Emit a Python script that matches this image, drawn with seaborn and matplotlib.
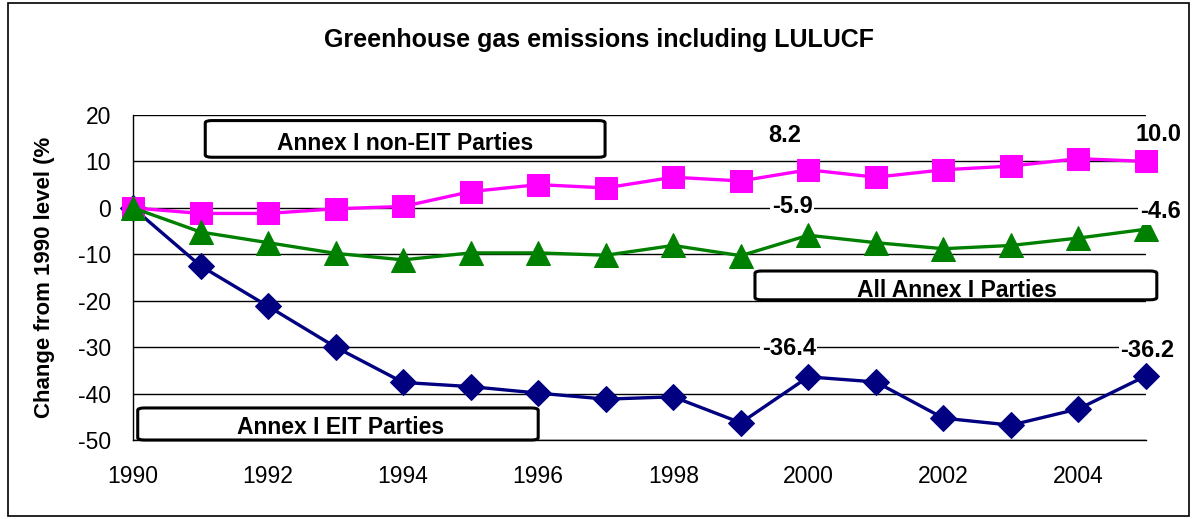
import matplotlib
matplotlib.use("Agg")
import matplotlib.pyplot as plt
from matplotlib.patches import FancyBboxPatch, Rectangle
import seaborn as sns
import pandas as pd

years = list(range(1990, 2006))
non_eit = [0, -1.2, -1.2, -0.2, 0.3, 3.5, 5.0, 4.3, 6.6, 5.8, 8.2, 6.6, 8.2, 9.0, 10.6, 10.0]
all_annex = [0, -5.2, -7.5, -9.8, -11.2, -9.7, -9.7, -10.2, -8.1, -10.3, -5.9, -7.5, -8.8, -8.1, -6.5, -4.6]
eit = [0, -12.5, -21.2, -30.0, -37.6, -38.5, -39.9, -41.2, -40.7, -46.3, -36.4, -37.5, -45.3, -46.8, -43.3, -36.2]

df = pd.DataFrame({"year": years, "non_eit": non_eit, "all": all_annex, "eit": eit})

sns.set_theme(style="white")
plt.rcParams["font.family"] = ["Liberation Sans", "DejaVu Sans"]
plt.rcParams["axes.unicode_minus"] = False
plt.rcParams["text.color"] = "black"
plt.rcParams["axes.labelcolor"] = "black"
plt.rcParams["xtick.color"] = "black"
plt.rcParams["ytick.color"] = "black"

fig = plt.figure(figsize=(11.99, 5.19), dpi=100)
ax = fig.add_axes([133 / 1199, 1 - 440 / 519, (1146 - 133) / 1199, (440 - 115) / 519])

# frame around the whole chart
fig.patches.append(Rectangle((8 / 1199, 3 / 519), 1181 / 1199, 513 / 519,
                             transform=fig.transFigure, fill=False,
                             edgecolor="black", linewidth=1.2))

sns.lineplot(data=df, x="year", y="eit", ax=ax, color="#000080", marker="D",
             markersize=13.5, markeredgecolor="#000080", linewidth=2.4, clip_on=False, zorder=3)
sns.lineplot(data=df, x="year", y="non_eit", ax=ax, color="#FF00FF", marker="s",
             markersize=15.5, markeredgecolor="#FF00FF", linewidth=2.4, clip_on=False, zorder=3)
sns.lineplot(data=df, x="year", y="all", ax=ax, color="#008000", marker="^",
             markersize=17, markeredgecolor="#008000", linewidth=2.4, clip_on=False, zorder=4)

ax.set_xlim(1990, 2005)
ax.set_ylim(-50, 20)
ax.set_yticks(range(-50, 21, 10))
ax.set_xticks(years, minor=True)
ax.set_xticks(range(1990, 2006, 2))
ax.tick_params(axis="both", which="both", direction="out", length=5, width=1,
               color="black", labelsize=16.5)
ax.tick_params(axis="x", which="major", pad=13)
ax.tick_params(axis="y", pad=11)
ax.yaxis.grid(True, color="black", linewidth=1)
ax.set_axisbelow(True)
for side in ["top", "right"]:
    ax.spines[side].set_visible(False)
for side in ["left", "bottom"]:
    ax.spines[side].set_color("black")
    ax.spines[side].set_linewidth(1)

ax.set_xlabel("")
ax.set_ylabel("Change from 1990 level (%", fontsize=16, fontweight="bold", labelpad=16)
fig.text(0.5, 1 - 40 / 519, "Greenhouse gas emissions including LULUCF",
         ha="center", va="center", fontsize=18, fontweight="bold")

# series name boxes
boxes = [
    ("Annex I non-EIT Parties", 1991.07, 10.9, 5.92, 7.9, 1994.03, 13.9),
    ("All Annex I Parties", 1999.21, -19.8, 5.95, 6.2, 2002.2, -17.8),
    ("Annex I EIT Parties", 1990.07, -50.0, 5.93, 6.9, 1993.07, -47.2),
]
for label, x0, y0, w, h, tx, ty in boxes:
    ax.add_patch(FancyBboxPatch((x0, y0), w, h, boxstyle="round,pad=0,rounding_size=0.1",
                                facecolor="white", edgecolor="black", linewidth=2.2,
                                zorder=5, clip_on=False, mutation_aspect=5))
    ax.text(tx, ty, label, ha="center", va="center", fontsize=16.5,
            fontweight="bold", zorder=6)

# value labels
values = [
    ("8.2", 1999.65, 15.6), ("10.0", 2005.19, 15.8),
    ("-5.9", 1999.76, 0.2), ("-4.6", 2005.21, -0.85),
    ("-36.4", 1999.71, -30.3), ("-36.2", 2005.02, -30.7),
]
for txt, x, y in values:
    ax.text(x, y, txt, ha="center", va="center", fontsize=17, fontweight="bold",
            zorder=6, bbox=dict(facecolor="white", edgecolor="none", pad=1))

fig.savefig("out.png", dpi=100)
